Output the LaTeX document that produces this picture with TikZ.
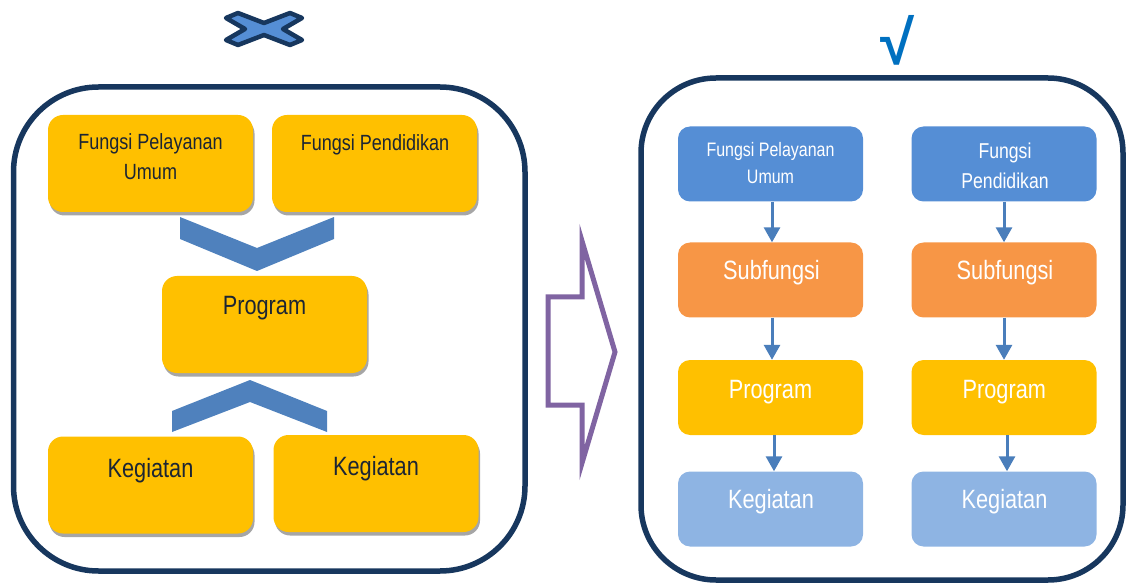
\documentclass[tikz,border=0pt]{standalone}
\usepackage{fontspec}
\setmainfont[FakeStretch=0.82]{Liberation Sans}
\newfontfamily\checkfont{Liberation Sans}
\usetikzlibrary{arrows.meta,shadows}
\definecolor{navy}{HTML}{17375E}
\definecolor{gold}{HTML}{FFC000}
\definecolor{orng}{HTML}{F79646}
\definecolor{midblue}{HTML}{558ED5}
\definecolor{lightblue}{HTML}{8EB4E3}
\definecolor{chev}{HTML}{4F81BD}
\definecolor{arrowblue}{HTML}{4A7EBB}
\definecolor{purp}{HTML}{8064A2}
\definecolor{darktext}{HTML}{1C2533}
\definecolor{shadowgray}{HTML}{A6A6A6}
\definecolor{checkblue}{HTML}{0070C0}
\definecolor{xfill}{HTML}{558ED5}
\begin{document}
\begin{tikzpicture}[x=1pt,y=-1pt,
  frame/.style={rectangle, draw=navy, line width=5.5pt, inner sep=0pt},
  lbox/.style={rectangle, rounded corners=15pt, fill=gold, inner sep=0pt,
    minimum width=205pt, minimum height=97pt,
    drop shadow={shadow xshift=1.5pt, shadow yshift=-3.5pt, fill=shadowgray, opacity=1}},
  rbox/.style={rectangle, rounded corners=12pt, inner sep=0pt,
    minimum width=185pt, minimum height=75pt},
  ltext/.style={text=darktext, inner sep=0pt, align=center},
  rtext/.style={text=white, inner sep=0pt, align=center},
  big/.style={font=\fontsize{26.5}{30}\selectfont},
  flow/.style={draw=arrowblue, line width=3pt, -{Triangle[width=16pt,length=15pt]}},
  chevron/.style={fill=chev, draw=none}
]
\useasboundingbox (0,0) rectangle (1127,585);

% containers
\node[frame, rounded corners=85pt, minimum width=511.5pt, minimum height=484pt] (leftframe) at (269.25,329) {};
\node[frame, rounded corners=75pt, minimum width=482pt, minimum height=502pt] (rightframe) at (882,329) {};

% cross mark
\begin{scope}[shift={(264,29)}]
\filldraw[fill=xfill, draw=navy, line width=4.5pt, line join=round]
  (-38,-11) -- (-26,-16) -- (0,-6) -- (26,-16) -- (38,-11) -- (19,0) --
  (38,11) -- (26,16) -- (0,6) -- (-26,16) -- (-38,11) -- (-19,0) -- cycle;
\end{scope}

% check mark
\node[text=checkblue, inner sep=0pt, font=\checkfont\bfseries\fontsize{62}{62}\selectfont] (check) at (898,40) {√};

% left boxes
\node[lbox] (lfpu) at (150.5,163.5) {};
\node[lbox] (lfp) at (374.5,163.5) {};
\node[lbox] (lprog) at (264.5,324.5) {};
\node[lbox] (lkeg1) at (150.5,485) {};
\node[lbox] (lkeg2) at (376,483.5) {};

\node[ltext, anchor=north, font=\fontsize{22}{30}\selectfont] (tlfpu) at (150.5,133.5) {Fungsi Pelayanan\\Umum};
\node[ltext, anchor=base, font=\fontsize{22}{30}\selectfont] (tlfp) at (375,151) {Fungsi Pendidikan};
\node[ltext, anchor=base, big] (tlprog) at (264.5,315) {Program};
\node[ltext, anchor=base, big] (tlkeg1) at (150.5,477) {Kegiatan};
\node[ltext, anchor=base, big] (tlkeg2) at (376,475) {Kegiatan};

% chevrons
\fill[chevron] (180,217) -- (257,248) -- (334,217) -- (334,239) -- (257,271) -- (180,239) -- cycle;
\fill[chevron] (172,432) -- (172,411) -- (250,380) -- (327,411) -- (327,432) -- (250,402) -- cycle;

% big purple arrow
\draw[purp, line width=5pt, line join=miter, miter limit=12]
  (548,297) -- (582,297) -- (582,241) -- (615,352) -- (582,463) -- (582,405) -- (548,405) -- cycle;

% right boxes
\node[rbox, fill=midblue] (rfpu) at (770.5,164) {};
\node[rbox, fill=midblue] (rfp) at (1004,164) {};
\node[rbox, fill=orng] (rsub1) at (770.5,280) {};
\node[rbox, fill=orng] (rsub2) at (1004,280) {};
\node[rbox, fill=gold] (rprog1) at (770.5,397.5) {};
\node[rbox, fill=gold] (rprog2) at (1004,397.5) {};
\node[rbox, fill=lightblue] (rkeg1) at (770.5,509) {};
\node[rbox, fill=lightblue] (rkeg2) at (1004,509) {};

\node[rtext, anchor=north, font=\fontsize{19.5}{27}\selectfont] (trfpu) at (770.5,142) {Fungsi Pelayanan\\Umum};
\node[rtext, anchor=north, font=\fontsize{21.5}{30}\selectfont] (trfp) at (1005,143) {Fungsi\\Pendidikan};
\node[rtext, anchor=base, big] (trsub1) at (771.5,280) {Subfungsi};
\node[rtext, anchor=base, big] (trsub2) at (1005,280) {Subfungsi};
\node[rtext, anchor=base, big] (trprog1) at (770.5,398) {Program};
\node[rtext, anchor=base, big] (trprog2) at (1004.3,398) {Program};
\node[rtext, anchor=base, big] (trkeg1) at (771,508) {Kegiatan};
\node[rtext, anchor=base, big] (trkeg2) at (1004.5,508) {Kegiatan};

% flow arrows
\draw[flow] ([xshift=1.5pt]rfpu.south) -- ([xshift=1.5pt]rsub1.north);
\draw[flow] (rfp.south) -- (rsub2.north);
\draw[flow] ([xshift=1.5pt]rsub1.south) -- ([xshift=1.5pt]rprog1.north);
\draw[flow] (rsub2.south) -- (rprog2.north);
\draw[flow] ([xshift=3.5pt]rprog1.south) -- ([xshift=3.5pt]rkeg1.north);
\draw[flow] ([xshift=3pt]rprog2.south) -- ([xshift=3pt]rkeg2.north);
\end{tikzpicture}
\end{document}
